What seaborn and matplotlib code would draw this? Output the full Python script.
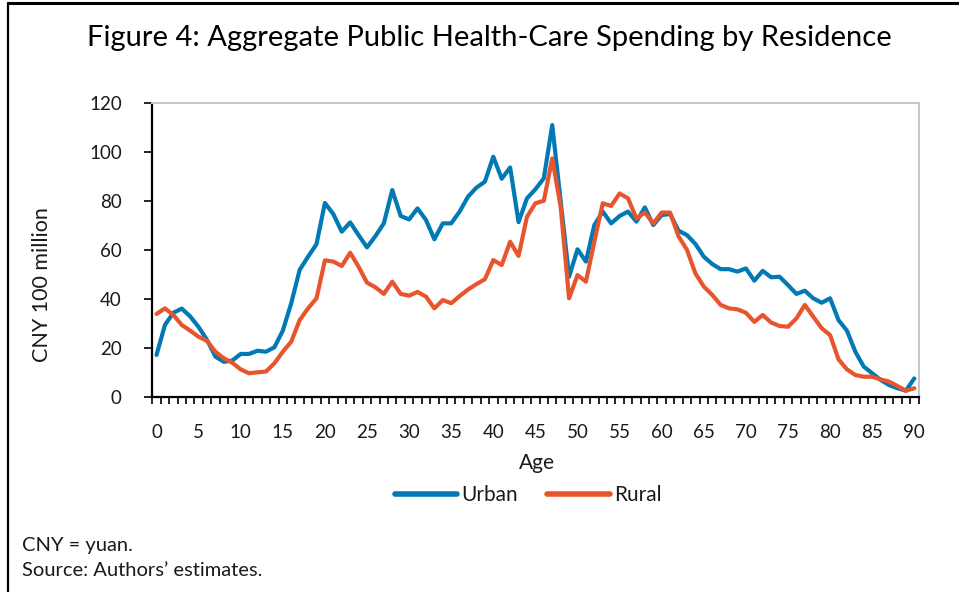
import numpy as np
import pandas as pd
import matplotlib
matplotlib.use("Agg")
import matplotlib.pyplot as plt
import seaborn as sns
from matplotlib.lines import Line2D

ages = list(range(0, 91))
urban = [17.3, 29.5, 34.5, 36.2, 33.0, 28.7, 23.4, 16.6, 14.5, 15.0,
         17.7, 17.7, 19.0, 18.6, 20.4, 27.2, 38.4, 52.0, 57.4, 62.5,
         79.3, 74.8, 67.6, 71.4, 66.2, 61.2, 65.8, 71.0, 84.6, 74.0,
         72.6, 77.1, 72.4, 64.5, 71.0, 71.0, 75.8, 81.9, 85.6, 88.0,
         98.2, 89.2, 93.8, 71.5, 81.2, 84.9, 89.4, 111.1, 80.0, 49.2,
         60.4, 55.4, 70.3, 75.8, 71.0, 74.0, 75.8, 71.7, 77.5, 70.3,
         74.4, 74.8, 68.0, 66.2, 62.6, 57.4, 54.4, 52.3, 52.3, 51.3,
         52.6, 47.6, 51.6, 49.0, 49.2, 45.8, 42.2, 43.5, 40.4, 38.6,
         40.4, 31.5, 27.2, 18.6, 12.5, 9.8, 7.1, 5.0, 3.7, 2.7, 7.7]
rural = [34.0, 36.3, 33.6, 29.5, 27.2, 24.7, 23.0, 18.6, 15.9, 14.1,
         11.4, 9.8, 10.2, 10.5, 13.9, 18.6, 22.7, 31.5, 36.3, 40.4,
         55.9, 55.4, 53.6, 59.0, 53.3, 46.8, 44.9, 42.2, 47.2, 42.2,
         41.5, 43.0, 41.1, 36.3, 39.7, 38.4, 41.3, 44.0, 46.2, 48.2,
         56.0, 54.0, 63.5, 57.7, 73.7, 79.2, 80.2, 97.5, 77.8, 40.4,
         49.9, 47.2, 63.5, 79.2, 78.1, 83.2, 81.2, 73.0, 75.4, 71.0,
         75.4, 75.4, 65.7, 60.2, 50.6, 45.2, 41.8, 37.7, 36.3, 35.9,
         34.5, 30.8, 33.6, 30.5, 29.1, 28.8, 32.2, 37.7, 32.9, 28.2,
         25.4, 15.5, 11.4, 9.1, 8.4, 8.4, 7.3, 6.4, 4.6, 2.7, 3.7]
series_names = ["Urban", "Rural"]
colors = ["#0079B5", "#E8552D"]
yticks = [0, 20, 40, 60, 80, 100, 120]
xtick_labels = list(range(0, 91, 5))

df = pd.DataFrame({
    "Age": ages * 2,
    "Value": urban + rural,
    "Residence": [series_names[0]] * len(ages) + [series_names[1]] * len(ages),
})

sns.set_theme(style="white")
plt.rcParams["font.family"] = ["Lato", "DejaVu Sans"]
text_color = "#1a1a1a"

fig = plt.figure(figsize=(9.59, 5.92), dpi=100)
ax = fig.add_axes([152.3 / 959, 1 - 397.3 / 592, (918.5 - 152.3) / 959, (397.3 - 103.3) / 592])

sns.lineplot(data=df, x="Age", y="Value", hue="Residence", palette=colors,
             linewidth=3.0, ax=ax, legend=False, solid_capstyle="round")

ax.set_xlim(-0.5, 90.5)
ax.set_ylim(0, 120)
ax.set_yticks(yticks)
ax.set_yticklabels([str(v) for v in yticks], fontsize=13.5, color=text_color)
ax.set_xticks(xtick_labels)
ax.set_xticklabels([str(v) for v in xtick_labels], fontsize=13.5, color=text_color)
ax.set_xticks(np.arange(-0.5, 91, 1.0), minor=True)
ax.tick_params(axis="x", which="major", length=0, pad=19)
ax.tick_params(axis="x", which="minor", length=5, width=1.2, color="black", direction="out", bottom=True)
ax.tick_params(axis="y", which="major", length=6, width=1.2, color="black", direction="out", left=True, pad=16)

for side in ["left", "bottom"]:
    ax.spines[side].set_color("black")
    ax.spines[side].set_linewidth(1.6)
for side in ["top", "right"]:
    ax.spines[side].set_color("#c8c8c8")
    ax.spines[side].set_linewidth(1.5)
ax.grid(False)

ax.set_xlabel("")
ax.set_ylabel("")
fig.text(537 / 959, 1 - 463 / 592, "Age", ha="center", va="center", fontsize=15, color=text_color)
fig.text(42 / 959, 1 - 285 / 592, "CNY 100 million", ha="center", va="center", rotation=90,
         fontsize=15.5, color=text_color)

handles = [Line2D([0], [0], color=c, lw=4, solid_capstyle="round") for c in colors]
fig.legend(handles, series_names, loc="center", bbox_to_anchor=(528 / 959, 1 - 495 / 592),
           ncol=2, frameon=False, fontsize=15, handlelength=3.0, handletextpad=0.2,
           columnspacing=1.4, labelcolor=text_color)

fig.text(489 / 959, 1 - 38 / 592, "Figure 4: Aggregate Public Health-Care Spending by Residence",
         ha="center", va="center", fontsize=21, color="black")
fig.text(22 / 959, 1 - 545 / 592, "CNY = yuan.", ha="left", va="center", fontsize=14.5, color=text_color)
fig.text(22 / 959, 1 - 571 / 592, "Source: Authors\u2019 estimates.", ha="left", va="center",
         fontsize=14.5, color=text_color)

# outer frame (top and left)
fig.add_artist(Line2D([8 / 959, 1.0], [1 - 2.5 / 592, 1 - 2.5 / 592], color="black", lw=2.2,
                      transform=fig.transFigure))
fig.add_artist(Line2D([8 / 959, 8 / 959], [0, 1 - 2.5 / 592], color="black", lw=1.6,
                      transform=fig.transFigure))

fig.savefig("out.png", dpi=100)
